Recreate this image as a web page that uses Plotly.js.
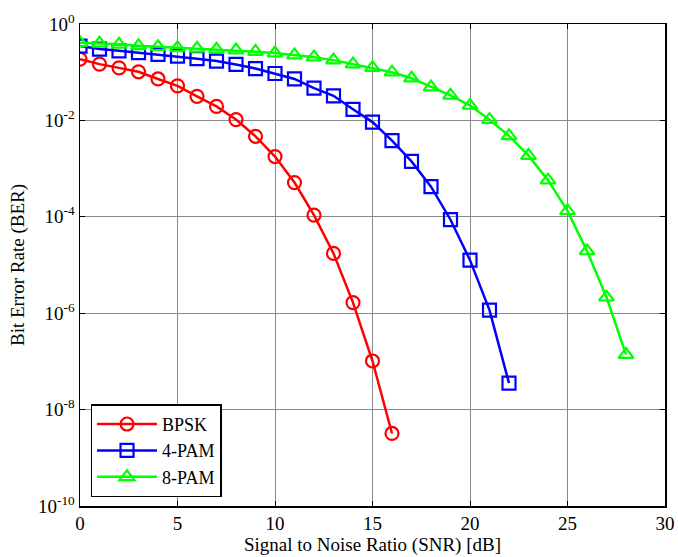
<!DOCTYPE html>
<html>
<head>
<meta charset="utf-8">
<script src="https://cdn.plot.ly/plotly-3.0.1.min.js"></script>
<style>html,body{margin:0;padding:0;background:#fff}#chart{width:678px;height:557px}</style>
</head>
<body>
<div id="chart"></div>
<script>
const snrBPSK = [0,1,2,3,4,5,6,7,8,9,10,11,12,13,14,15,16];
const berBPSK = [0.187,0.147,0.123,0.102,0.0724,0.0519,0.0316,0.0195,0.0104,0.00468,0.00178,5.13e-4,1.08e-4,1.74e-5,1.66e-6,1.02e-7,3.2e-9];

const snr4PAM = [0,1,2,3,4,5,6,7,8,9,10,11,12,13,14,15,16,17,18,19,20,21,22];
const ber4PAM = [0.348,0.302,0.278,0.255,0.234,0.215,0.191,0.170,0.145,0.119,0.094,0.0725,0.0468,0.0324,0.0170,0.00923,0.0038,0.00141,4.22e-4,8.7e-5,1.26e-5,1.16e-6,3.55e-8];

const snr8PAM = [0,1,2,3,4,5,6,7,8,9,10,11,12,13,14,15,16,17,18,19,20,21,22,23,24,25,26,27,28];
const ber8PAM = [0.408,0.396,0.378,0.353,0.337,0.321,0.312,0.297,0.287,0.267,0.249,0.226,0.205,0.178,0.147,0.124,0.100,0.075,0.049,0.0331,0.0204,0.01035,0.00479,0.00186,5.75e-4,1.33e-4,1.95e-5,2.14e-6,1.38e-7];

const seriesNames = ['BPSK','4-PAM','8-PAM'];
const xTickVals = [0,5,10,15,20,25,30];
const yTickVals = [1e-10,1e-8,1e-6,1e-4,1e-2,1];
const yTickText = ['10<sup>-10</sup>','10<sup>-8</sup>','10<sup>-6</sup>','10<sup>-4</sup>','10<sup>-2</sup>','10<sup>0</sup>'];

const font = {family: 'Liberation Serif, Times New Roman, serif', size: 19, color: '#000'};

function tr(x, y, name, color, symbol) {
  return {
    x: x, y: y, name: name, type: 'scatter', mode: 'lines+markers',
    line: {color: color, width: 2.5},
    marker: {symbol: symbol, size: 13, color: color, line: {color: color, width: 2.2}}
  };
}

const data = [
  tr(snrBPSK, berBPSK, seriesNames[0], '#ff0000', 'circle-open'),
  tr(snr4PAM, ber4PAM, seriesNames[1], '#0000ff', 'square-open'),
  tr(snr8PAM, ber8PAM, seriesNames[2], '#00ff00', 'triangle-up-open')
];

const layout = {
  width: 678, height: 557,
  margin: {l: 80, r: 13, t: 24, b: 51},
  paper_bgcolor: '#fff', plot_bgcolor: '#fff',
  font: font,
  showlegend: true,
  legend: {
    x: 0.018, y: 0.018, xanchor: 'left', yanchor: 'bottom',
    bgcolor: '#fff', bordercolor: '#000', borderwidth: 1.5,
    font: {family: font.family, size: 18, color: '#000'},
    itemwidth: 60, tracegroupgap: 0
  },
  xaxis: {
    range: [0, 30], tickvals: xTickVals,
    showline: true, linecolor: '#000', linewidth: 1.5, mirror: 'ticks',
    ticks: 'inside', ticklen: 5, tickcolor: '#000',
    showgrid: true, gridcolor: '#8a8a8a', gridwidth: 1,
    zeroline: false,
    tickfont: font,
    title: {text: 'Signal to Noise Ratio (SNR) [dB]', font: font, standoff: 3}
  },
  yaxis: {
    type: 'log', range: [-10, 0],
    tickvals: yTickVals, ticktext: yTickText,
    showline: true, linecolor: '#000', linewidth: 1.5, mirror: 'ticks',
    ticks: 'inside', ticklen: 5, tickcolor: '#000',
    showgrid: true, gridcolor: '#8a8a8a', gridwidth: 1,
    zeroline: false,
    tickfont: font,
    title: {text: 'Bit Error Rate (BER)', font: font, standoff: 8}
  }
};

Plotly.newPlot('chart', data, layout, {displayModeBar: false, staticPlot: true});
</script>
</body>
</html>
